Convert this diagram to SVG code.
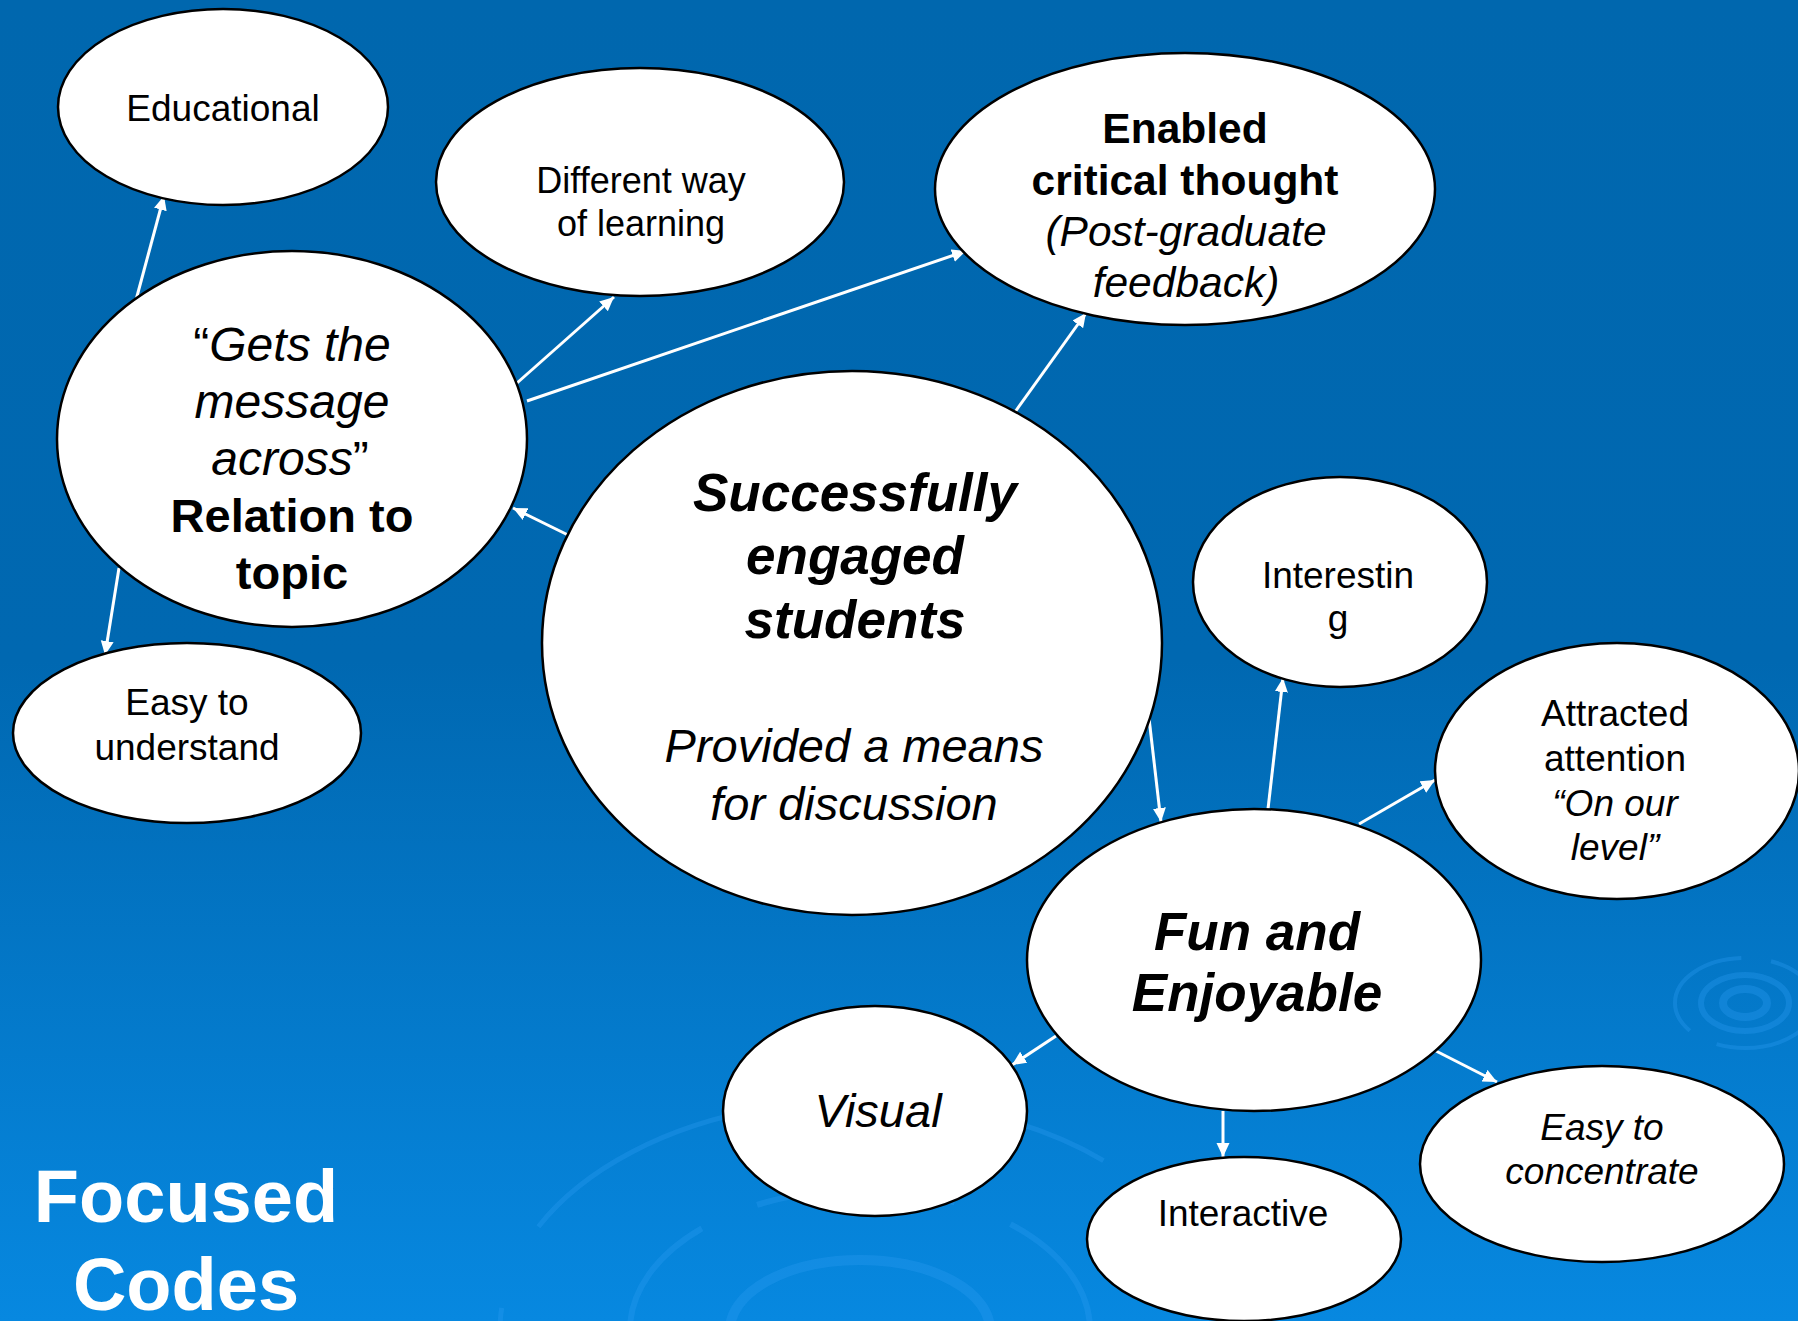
<svg xmlns="http://www.w3.org/2000/svg" width="1798" height="1321" viewBox="0 0 1798 1321">
<defs>
  <linearGradient id="bg" x1="0" y1="0" x2="0" y2="1">
    <stop offset="0" stop-color="#0067AE"/>
    <stop offset="0.5" stop-color="#0068B1"/>
    <stop offset="1" stop-color="#0788E0"/>
  </linearGradient>
  <marker id="ah" markerUnits="userSpaceOnUse" markerWidth="16" markerHeight="14" refX="14" refY="6.5" orient="auto">
    <path d="M0,0 L14,6.5 L0,13 z" fill="#FFFFFF"/>
  </marker>
  <style>
    .node { fill: #FFFFFF; stroke: #000000; stroke-width: 2.5; }
    .t { font-family: "Liberation Sans", Arial, sans-serif; fill: #000000; text-anchor: middle; }
    .i { font-style: italic; }
    .b { font-weight: bold; }
    .edge { stroke: #FFFFFF; stroke-width: 3; fill: none; marker-end: url(#ah); }
    .rip { fill: none; stroke: #2A9AF0; opacity: 0.35; }
  </style>
</defs>
<rect x="0" y="0" width="1798" height="1321" fill="url(#bg)"/>
<g id="ripples">
  <ellipse class="rip" cx="1745" cy="1003" rx="22" ry="14" stroke-width="8"/>
  <ellipse class="rip" cx="1745" cy="1003" rx="44" ry="28" stroke-width="6"/>
  <ellipse class="rip" cx="1745" cy="1003" rx="70" ry="45" stroke-width="4" stroke-dasharray="120 30"/>
  <ellipse class="rip" cx="860" cy="1330" rx="130" ry="70" stroke-width="10"/>
  <ellipse class="rip" cx="860" cy="1330" rx="230" ry="140" stroke-width="6" stroke-dasharray="200 60"/>
  <ellipse class="rip" cx="860" cy="1330" rx="360" ry="230" stroke-width="5" stroke-dasharray="260 90"/>
</g>
<g id="connectors">
  <path class="edge" d="M136,300 L164,196"/>
  <path class="edge" d="M119,568 L105,655"/>
  <path class="edge" d="M517,383 L614,297"/>
  <path class="edge" d="M527,401 L966,251"/>
  <path class="edge" d="M568,535 L513,508"/>
  <path class="edge" d="M1015,412 L1086,313"/>
  <path class="edge" d="M1149,718 L1161,822"/>
  <path class="edge" d="M1268,809 L1283,678"/>
  <path class="edge" d="M1359,824 L1435,780"/>
  <path class="edge" d="M1056,1036 L1012,1065"/>
  <path class="edge" d="M1223,1111 L1223,1157"/>
  <path class="edge" d="M1436,1051 L1497,1082"/>
</g>
<g id="n-educational">
  <ellipse class="node" cx="223" cy="107" rx="165" ry="98"/>
  <text class="t" x="223" y="121" font-size="37">Educational</text>
</g>
<g id="n-different">
  <ellipse class="node" cx="640" cy="182" rx="204" ry="114"/>
  <text class="t" x="641" y="193" font-size="36">Different way</text>
  <text class="t" x="641" y="236" font-size="36">of learning</text>
</g>
<g id="n-gets">
  <ellipse class="node" cx="292" cy="439" rx="235" ry="188"/>
  <text class="t" x="292" y="361" font-size="48">“<tspan class="i">Gets the</tspan></text>
  <text class="t i" x="292" y="418" font-size="48">message</text>
  <text class="t" x="290" y="475" font-size="48"><tspan class="i">across</tspan>”</text>
  <text class="t b" x="292" y="532" font-size="47">Relation to</text>
  <text class="t b" x="292" y="589" font-size="47">topic</text>
</g>
<g id="n-enabled">
  <ellipse class="node" cx="1185" cy="189" rx="250" ry="136"/>
  <text class="t b" x="1185" y="143" font-size="42.5">Enabled</text>
  <text class="t b" x="1185" y="195" font-size="42.5">critical thought</text>
  <text class="t i" x="1186" y="246" font-size="42.5">(Post-graduate</text>
  <text class="t i" x="1186" y="297" font-size="42.5">feedback)</text>
</g>
<g id="n-central">
  <ellipse class="node" cx="852" cy="643" rx="310" ry="272"/>
  <text class="t b i" x="855" y="511" font-size="53">Successfully</text>
  <text class="t b i" x="855" y="574" font-size="53">engaged</text>
  <text class="t b i" x="855" y="638" font-size="53">students</text>
  <text class="t i" x="854" y="762" font-size="47">Provided a means</text>
  <text class="t i" x="854" y="820" font-size="47">for discussion</text>
</g>
<g id="n-interesting">
  <ellipse class="node" cx="1340" cy="582" rx="147" ry="105"/>
  <text class="t" x="1338" y="588" font-size="37">Interestin</text>
  <text class="t" x="1338" y="631" font-size="37">g</text>
</g>
<g id="n-easyunderstand">
  <ellipse class="node" cx="187" cy="733" rx="174" ry="90"/>
  <text class="t" x="187" y="715" font-size="37">Easy to</text>
  <text class="t" x="187" y="760" font-size="37">understand</text>
</g>
<g id="n-attracted">
  <ellipse class="node" cx="1617" cy="771" rx="182" ry="128"/>
  <text class="t" x="1615" y="726" font-size="37">Attracted</text>
  <text class="t" x="1615" y="771" font-size="37">attention</text>
  <text class="t i" x="1615" y="816" font-size="37">“On our</text>
  <text class="t i" x="1615" y="860" font-size="37">level”</text>
</g>
<g id="n-fun">
  <ellipse class="node" cx="1254" cy="960" rx="227" ry="151"/>
  <text class="t b i" x="1257" y="950" font-size="53">Fun and</text>
  <text class="t b i" x="1257" y="1011" font-size="53">Enjoyable</text>
</g>
<g id="n-visual">
  <ellipse class="node" cx="875" cy="1111" rx="152" ry="105"/>
  <text class="t i" x="878" y="1127" font-size="47">Visual</text>
</g>
<g id="n-interactive">
  <ellipse class="node" cx="1244" cy="1239" rx="157" ry="82"/>
  <text class="t" x="1243" y="1226" font-size="37">Interactive</text>
</g>
<g id="n-concentrate">
  <ellipse class="node" cx="1602" cy="1164" rx="182" ry="98"/>
  <text class="t i" x="1602" y="1140" font-size="37">Easy to</text>
  <text class="t i" x="1602" y="1184" font-size="37">concentrate</text>
</g>
<g id="title">
  <text x="186" y="1222" font-family="Liberation Sans, Arial, sans-serif" font-weight="bold" font-size="74" fill="#FFFFFF" text-anchor="middle">Focused</text>
  <text x="186" y="1310" font-family="Liberation Sans, Arial, sans-serif" font-weight="bold" font-size="74" fill="#FFFFFF" text-anchor="middle">Codes</text>
</g>
</svg>
